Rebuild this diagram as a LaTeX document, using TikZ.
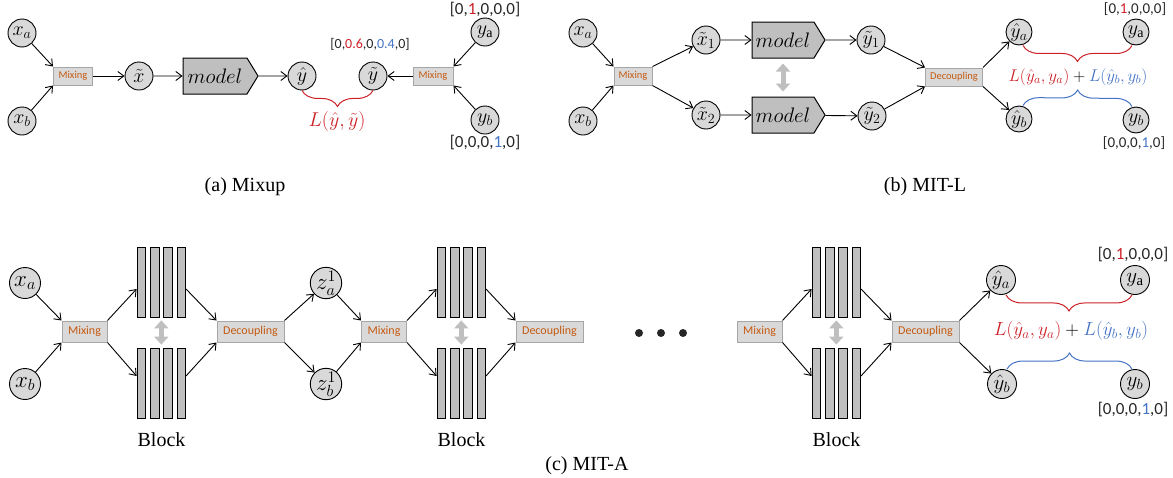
\RequirePackage{fix-cm}
\documentclass[tikz,border=0pt]{standalone}
\usepackage{fontspec}
\setmainfont{Liberation Serif}
\newfontfamily\calibri{Carlito}
\usetikzlibrary{arrows.meta,positioning,calc,shapes.symbols,decorations.pathreplacing}

\definecolor{nodegray}{RGB}{217,217,217}
\definecolor{boxedge}{RGB}{166,166,166}
\definecolor{modelgray}{RGB}{191,191,191}
\definecolor{oporange}{RGB}{197,90,17}
\definecolor{lossred}{RGB}{204,32,39}
\definecolor{lossblue}{RGB}{68,114,196}
\definecolor{txtdark}{RGB}{38,38,38}
\newcommand{\setfs}[1]{\fontsize{#1}{#1}\selectfont}

\begin{document}
\begin{tikzpicture}[x=1pt,y=-1pt,
  var/.style={circle,draw,fill=nodegray,line width=0.9pt,minimum size=28pt,inner sep=0pt,font=\setfs{20}},
  bigvar/.style={var,minimum size=31pt,font=\setfs{23}},
  op/.style={draw=boxedge,fill=nodegray,line width=1pt,text=oporange,inner sep=0pt,minimum height=18pt,font=\calibri\setfs{10.5}},
  bigop/.style={op,minimum height=21pt,font=\calibri\setfs{12}},
  modelnode/.style={signal,signal to=east,signal pointer angle=117,draw,fill=modelgray,line width=1pt,minimum width=75pt,minimum height=36pt,inner sep=0pt,font=\setfs{21}},
  blockbar/.style={draw,fill=modelgray,line width=0.8pt,minimum width=8.7pt,minimum height=70pt,inner sep=0pt},
  vec/.style={text=txtdark,inner sep=0pt,font=\calibri\setfs{#1}},
  vec/.default=16,
  flow/.style={-{Straight Barb[length=6pt,width=9pt]},line width=0.9pt},
  share/.style={{Triangle[width=14pt,length=8pt]}-{Triangle[width=14pt,length=8pt]},line width=5pt,draw=modelgray,shorten >=3pt,shorten <=3pt},
  loss/.style={decorate,decoration={brace,amplitude=16pt},line width=1pt},
  subcap/.style={font=\setfs{20}}]
\useasboundingbox (0,0) rectangle (1173,477);

% (a) Mixup
\node[var] (xa) at (22,33) {$x_a$};
\node[var] (xb) at (22,121) {$x_b$};
\node[op,minimum width=39pt] (mixa) at (73,76) {Mixing};
\node[var] (xt) at (139,76) {$\tilde{x}$};
\node[modelnode] (mda) at (215,76) {$model$};
\node[var] (yh) at (302,76) {$\hat{y}$};
\node[var] (yt) at (373,76) {$\tilde{y}$};
\node[op,minimum width=40pt] (mixay) at (433,76) {Mixing};
\node[var] (yaa) at (485,32) {$y_\mathrm{a}$};
\node[var] (yba) at (485,120) {$y_b$};
\node[vec=17] (vaa) at (485,10) {[0,\textcolor{lossred}{1},0,0,0]};
\node[vec=17] (vba) at (485,143) {[0,0,0,\textcolor{lossblue}{1},0]};
\node[vec=14] (vmix) at (370,44) {[0,\textcolor{lossred}{0.6},0,\textcolor{lossblue}{0.4},0]};
\node[text=lossred,font=\setfs{20}] (lossa) at (337,121) {$L(\hat{y},\tilde{y})$};
\node[subcap] (capa) at (245,187) {(a) Mixup};

\draw[flow] (xa) -- (mixa.north west);
\draw[flow] (xb) -- (mixa.south west);
\draw[flow] (mixa) -- (xt);
\draw[flow] (xt) -- (mda);
\draw[flow] (mda) -- (yh);
\draw[flow] (mixay) -- (yt);
\draw[flow] (yaa) -- (mixay.north east);
\draw[flow] (yba) -- (mixay.south east);
\draw[loss,lossred,decoration={mirror}] (yh.south) -- (yt.south);

% (b) MIT-L
\node[var] (xa2) at (583,33) {$x_a$};
\node[var] (xb2) at (583,121) {$x_b$};
\node[op,minimum width=38pt] (mixb) at (633,76) {Mixing};
\node[var] (xt1) at (706,40) {$\tilde{x}_1$};
\node[var] (xt2) at (706,115) {$\tilde{x}_2$};
\node[modelnode,minimum width=73pt] (mdb1) at (783,40) {$model$};
\node[modelnode,minimum width=73pt] (mdb2) at (783,115) {$model$};
\node[var] (yt1) at (871,40) {$\tilde{y}_1$};
\node[var] (yt2) at (872,116) {$\tilde{y}_2$};
\node[op,minimum width=57pt] (decb) at (954,77) {Decoupling};
\node[var,minimum size=26pt] (yhab) at (1019,32) {$\hat{y}_a$};
\node[var,minimum size=26pt] (yhbb) at (1019,119) {$\hat{y}_b$};
\node[var,minimum size=26pt] (yab) at (1136,32) {$y_\mathrm{a}$};
\node[var,minimum size=26pt] (ybb) at (1136,120) {$y_b$};
\node[vec=15] (vab) at (1135,9) {[0,\textcolor{lossred}{1},0,0,0]};
\node[vec=15] (vbb) at (1134,143) {[0,0,0,\textcolor{lossblue}{1},0]};
\node[font=\setfs{17}] (lossb) at (1078,77) {$\textcolor{lossred}{L(\hat{y}_a,y_a)}+\textcolor{lossblue}{L(\hat{y}_b,y_b)}$};
\node[subcap] (capb) at (925,187) {(b) MIT-L};

\draw[flow] (xa2) -- (mixb.north west);
\draw[flow] (xb2) -- (mixb.south west);
\draw[flow] (mixb.north east) -- (xt1);
\draw[flow] (mixb.south east) -- (xt2);
\draw[flow] (xt1) -- (mdb1);
\draw[flow] (xt2) -- (mdb2);
\draw[flow] (mdb1) -- (yt1);
\draw[flow] (mdb2) -- (yt2);
\draw[flow] (yt1) -- (decb.north west);
\draw[flow] (yt2) -- (decb.south west);
\draw[flow] (decb.north east) -- (yhab);
\draw[flow] (decb.south east) -- (yhbb);
\draw[share,shorten >=5pt,shorten <=5pt] (mdb1.south) -- (mdb2.north);
\draw[loss,lossred,decoration={mirror}] ([xshift=4pt]yhab.south) -- ([xshift=-4pt]yab.south);
\draw[loss,lossblue] ([xshift=4pt]yhbb.north) -- ([xshift=-4pt]ybb.north);

% (c) MIT-A
\node[bigvar] (xa3) at (25,283) {$x_a$};
\node[bigvar] (xb3) at (25,384) {$x_b$};
\node[bigop,minimum width=45pt] (mixc1) at (84.5,331.5) {Mixing};
\node[bigop,minimum width=67pt] (decc1) at (250.5,331.5) {Decoupling};
\node[bigvar] (za) at (326,283) {$z_a^1$};
\node[bigvar] (zb) at (326,384) {$z_b^1$};
\node[bigop,minimum width=45pt] (mixc2) at (384,331.5) {Mixing};
\node[bigop,minimum width=67pt] (decc2) at (549.5,331.5) {Decoupling};
\foreach \d/\x in {1/639,2/661,3/683}
  \node[circle,fill=txtdark,minimum size=8pt,inner sep=0pt] (dot\d) at (\x,333) {};
\node[bigop,minimum width=45pt] (mixc3) at (759.5,331.5) {Mixing};
\node[bigop,minimum width=67pt] (decc3) at (925.5,331.5) {Decoupling};
\node[bigvar,minimum size=29pt,font=\setfs{21}] (yhac) at (1001,280) {$\hat{y}_a$};
\node[bigvar,minimum size=29pt,font=\setfs{21}] (yhbc) at (1002,384) {$\hat{y}_b$};
\node[bigvar,minimum size=29pt,font=\setfs{21}] (yac) at (1135,280) {$y_\mathrm{a}$};
\node[bigvar,minimum size=29pt,font=\setfs{21}] (ybc) at (1135,384) {$y_b$};
\node[vec=17] (vac) at (1133,255) {[0,\textcolor{lossred}{1},0,0,0]};
\node[vec=17] (vbc) at (1133,410) {[0,0,0,\textcolor{lossblue}{1},0]};
\node[font=\setfs{19}] (lossc) at (1071,331) {$\textcolor{lossred}{L(\hat{y}_a,y_a)}+\textcolor{lossblue}{L(\hat{y}_b,y_b)}$};
\node[subcap] (capc) at (587,466) {(c) MIT-A};

\foreach \b/\x/\mx/\dx in {1/137/mixc1/decc1,2/437/mixc2/decc2,3/812/mixc3/decc3} {
  \foreach \k in {1,...,4} {
    \node[blockbar] (up\b-\k) at ({\x+4.35+13.3*(\k-1)},282) {};
    \node[blockbar] (lo\b-\k) at ({\x+4.35+13.3*(\k-1)},383) {};
  }
  \node[subcap] (blk\b) at ({\x+24.5},440) {Block};
  \draw[share] ($(up\b-2.south)!.5!(up\b-3.south)$) -- ($(lo\b-2.north)!.5!(lo\b-3.north)$);
  \draw[flow] (\mx.north east) -- ([yshift=-7pt]up\b-1.west);
  \draw[flow] (\mx.south east) -- ([yshift=7pt]lo\b-1.west);
  \draw[flow] ([yshift=-7pt]up\b-4.east) -- (\dx.north west);
  \draw[flow] ([yshift=7pt]lo\b-4.east) -- (\dx.south west);
}

\draw[flow] (xa3) -- (mixc1.north west);
\draw[flow] (xb3) -- (mixc1.south west);
\draw[flow] (decc1.north east) -- (za);
\draw[flow] (decc1.south east) -- (zb);
\draw[flow] (za) -- (mixc2.north west);
\draw[flow] (zb) -- (mixc2.south west);
\draw[flow] (decc3.north east) -- (yhac);
\draw[flow] (decc3.south east) -- (yhbc);
\draw[loss,lossred,decoration={mirror}] ([xshift=5pt]yhac.south) -- ([xshift=-3pt]yac.south);
\draw[loss,lossblue] ([xshift=5pt]yhbc.north) -- ([xshift=-3pt]ybc.north);
\end{tikzpicture}
\end{document}
